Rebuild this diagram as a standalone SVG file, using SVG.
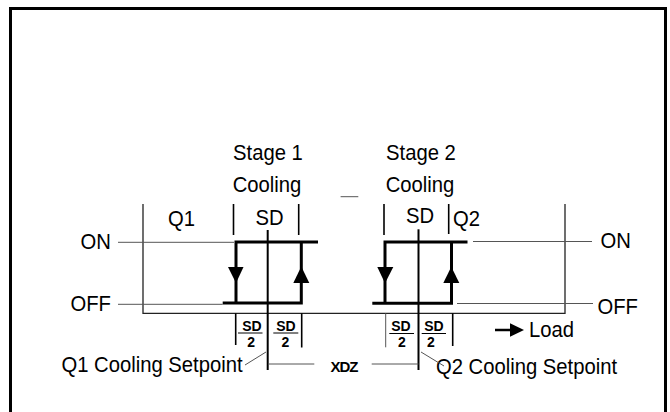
<svg xmlns="http://www.w3.org/2000/svg" width="670" height="412" viewBox="0 0 670 412">
<style>
  .t { font-family: "Liberation Sans", Arial, sans-serif; font-size: 22.5px; fill: #000; }
  .b { font-family: "Liberation Sans", Arial, sans-serif; font-size: 14px; font-weight: bold; fill: #000; text-anchor: middle; }
  .x { font-family: "Liberation Sans", Arial, sans-serif; font-size: 15px; font-weight: bold; letter-spacing: -1px; fill: #000; text-anchor: middle; }
  .m { text-anchor: middle; }
  .thin { stroke: #555; stroke-width: 1; fill: none; }
  .frame { stroke: #222; stroke-width: 1.3; fill: none; }
  .tick { stroke: #000; stroke-width: 1.6; fill: none; }
  .ctr { stroke: #000; stroke-width: 2; fill: none; }
  .thick { stroke: #000; stroke-width: 3; fill: none; stroke-linejoin: miter; }
  .bar { stroke: #000; stroke-width: 1; }
</style>
<rect width="670" height="412" fill="#fff"/>
<path d="M10.5 414 V8.5 H665.5 V414" fill="none" stroke="#000" stroke-width="3"/>

<g id="frame">
  <path class="frame" d="M143 204 V313.3 H565 V204"/>
</g>

<g id="stage1">
  <text class="t m" transform="translate(268,160) scale(0.9,1)">Stage 1</text>
  <text class="t m" transform="translate(267,192) scale(0.9,1)">Cooling</text>
  <text class="t m" transform="translate(269.5,225) scale(0.9,1)">SD</text>
  <text class="t" transform="translate(168,226) scale(0.9,1)">Q1</text>
  <line class="tick" x1="233.5" y1="204" x2="233.5" y2="235"/>
  <line class="tick" x1="298.7" y1="204" x2="298.7" y2="235"/>
  <path class="thick" d="M318 242 H236 V303"/>
  <path class="thick" d="M222.7 303 H301.3 V242"/>
  <polygon points="228,267 243.5,267 236,283"/>
  <polygon points="293.3,283 309.3,283 301.3,266.5"/>
  <line class="ctr" x1="267.7" y1="230" x2="267.7" y2="370"/>
</g>

<g id="stage2">
  <text class="t m" transform="translate(421,160) scale(0.9,1)">Stage 2</text>
  <text class="t m" transform="translate(420,192) scale(0.9,1)">Cooling</text>
  <text class="t m" transform="translate(420,223) scale(0.9,1)">SD</text>
  <text class="t" transform="translate(453,226) scale(0.9,1)">Q2</text>
  <line class="tick" x1="384" y1="204" x2="384" y2="235"/>
  <line class="tick" x1="448.7" y1="204" x2="448.7" y2="234"/>
  <path class="thick" d="M467.5 242 H385 V303.3"/>
  <path class="thick" d="M372.3 303.3 H451.5 V242"/>
  <polygon points="377.3,267 393.3,267 385,283.3"/>
  <polygon points="443.3,283 459.3,283 451.3,266.7"/>
  <line class="ctr" x1="418.5" y1="229.3" x2="418.5" y2="370"/>
</g>

<g id="labels">
  <text class="t" transform="translate(80.5,249) scale(0.9,1)">ON</text>
  <text class="t" transform="translate(70.5,311) scale(0.9,1)">OFF</text>
  <text class="t" transform="translate(600.5,248) scale(0.9,1)">ON</text>
  <text class="t" transform="translate(597.5,313.5) scale(0.9,1)">OFF</text>
  <text class="t" transform="translate(61.5,372) scale(0.9,1)">Q1 Cooling Setpoint</text>
  <text class="t" transform="translate(436,374) scale(0.9,1)">Q2 Cooling Setpoint</text>
  <text class="t" transform="translate(529,336.5) scale(0.9,1)">Load</text>
  <text class="x" x="344" y="371.5">XDZ</text>
</g>

<g id="fractions">
  <text class="b" x="252" y="330.5">SD</text>
  <line class="bar" x1="238" y1="333" x2="262.5" y2="333"/>
  <text class="b" x="251.2" y="346.5">2</text>
  <text class="b" x="286" y="330.5">SD</text>
  <line class="bar" x1="273.3" y1="333" x2="298.3" y2="333"/>
  <text class="b" x="285.5" y="346.5">2</text>
  <text class="b" x="401" y="331">SD</text>
  <line class="bar" x1="389.3" y1="333.5" x2="414" y2="333.5"/>
  <text class="b" x="401.8" y="347">2</text>
  <text class="b" x="434" y="331">SD</text>
  <line class="bar" x1="421.7" y1="333.5" x2="446" y2="333.5"/>
  <text class="b" x="431" y="347">2</text>
</g>

<g id="connectors">
  <line class="thin" x1="118" y1="242.3" x2="234" y2="242.3"/>
  <line class="thin" x1="118" y1="304.3" x2="222.7" y2="304.3"/>
  <line class="thin" x1="473" y1="241.5" x2="592" y2="241.5"/>
  <line class="thin" x1="457" y1="303.5" x2="593" y2="303.5"/>
  <line class="thin" x1="340.6" y1="196.7" x2="358.3" y2="196.7"/>
  <line class="tick" x1="235.7" y1="313.3" x2="235.7" y2="345"/>
  <line class="tick" x1="301.7" y1="313.3" x2="301.7" y2="347.5"/>
  <line class="thin" x1="385.7" y1="313.3" x2="385.7" y2="347.3"/>
  <line class="tick" x1="452.7" y1="313.3" x2="452.7" y2="346"/>
  <line class="thin" x1="268.3" y1="364" x2="314.3" y2="364"/>
  <line class="thin" x1="371.7" y1="364" x2="418.5" y2="364"/>
  <line class="thin" x1="245" y1="365" x2="266" y2="352"/>
  <line class="thin" x1="421" y1="352" x2="444" y2="366"/>
  <line x1="495" y1="330" x2="512" y2="330" stroke="#000" stroke-width="2.5"/>
  <polygon points="510,323.3 524,330 510,336.7"/>
</g>
</svg>
